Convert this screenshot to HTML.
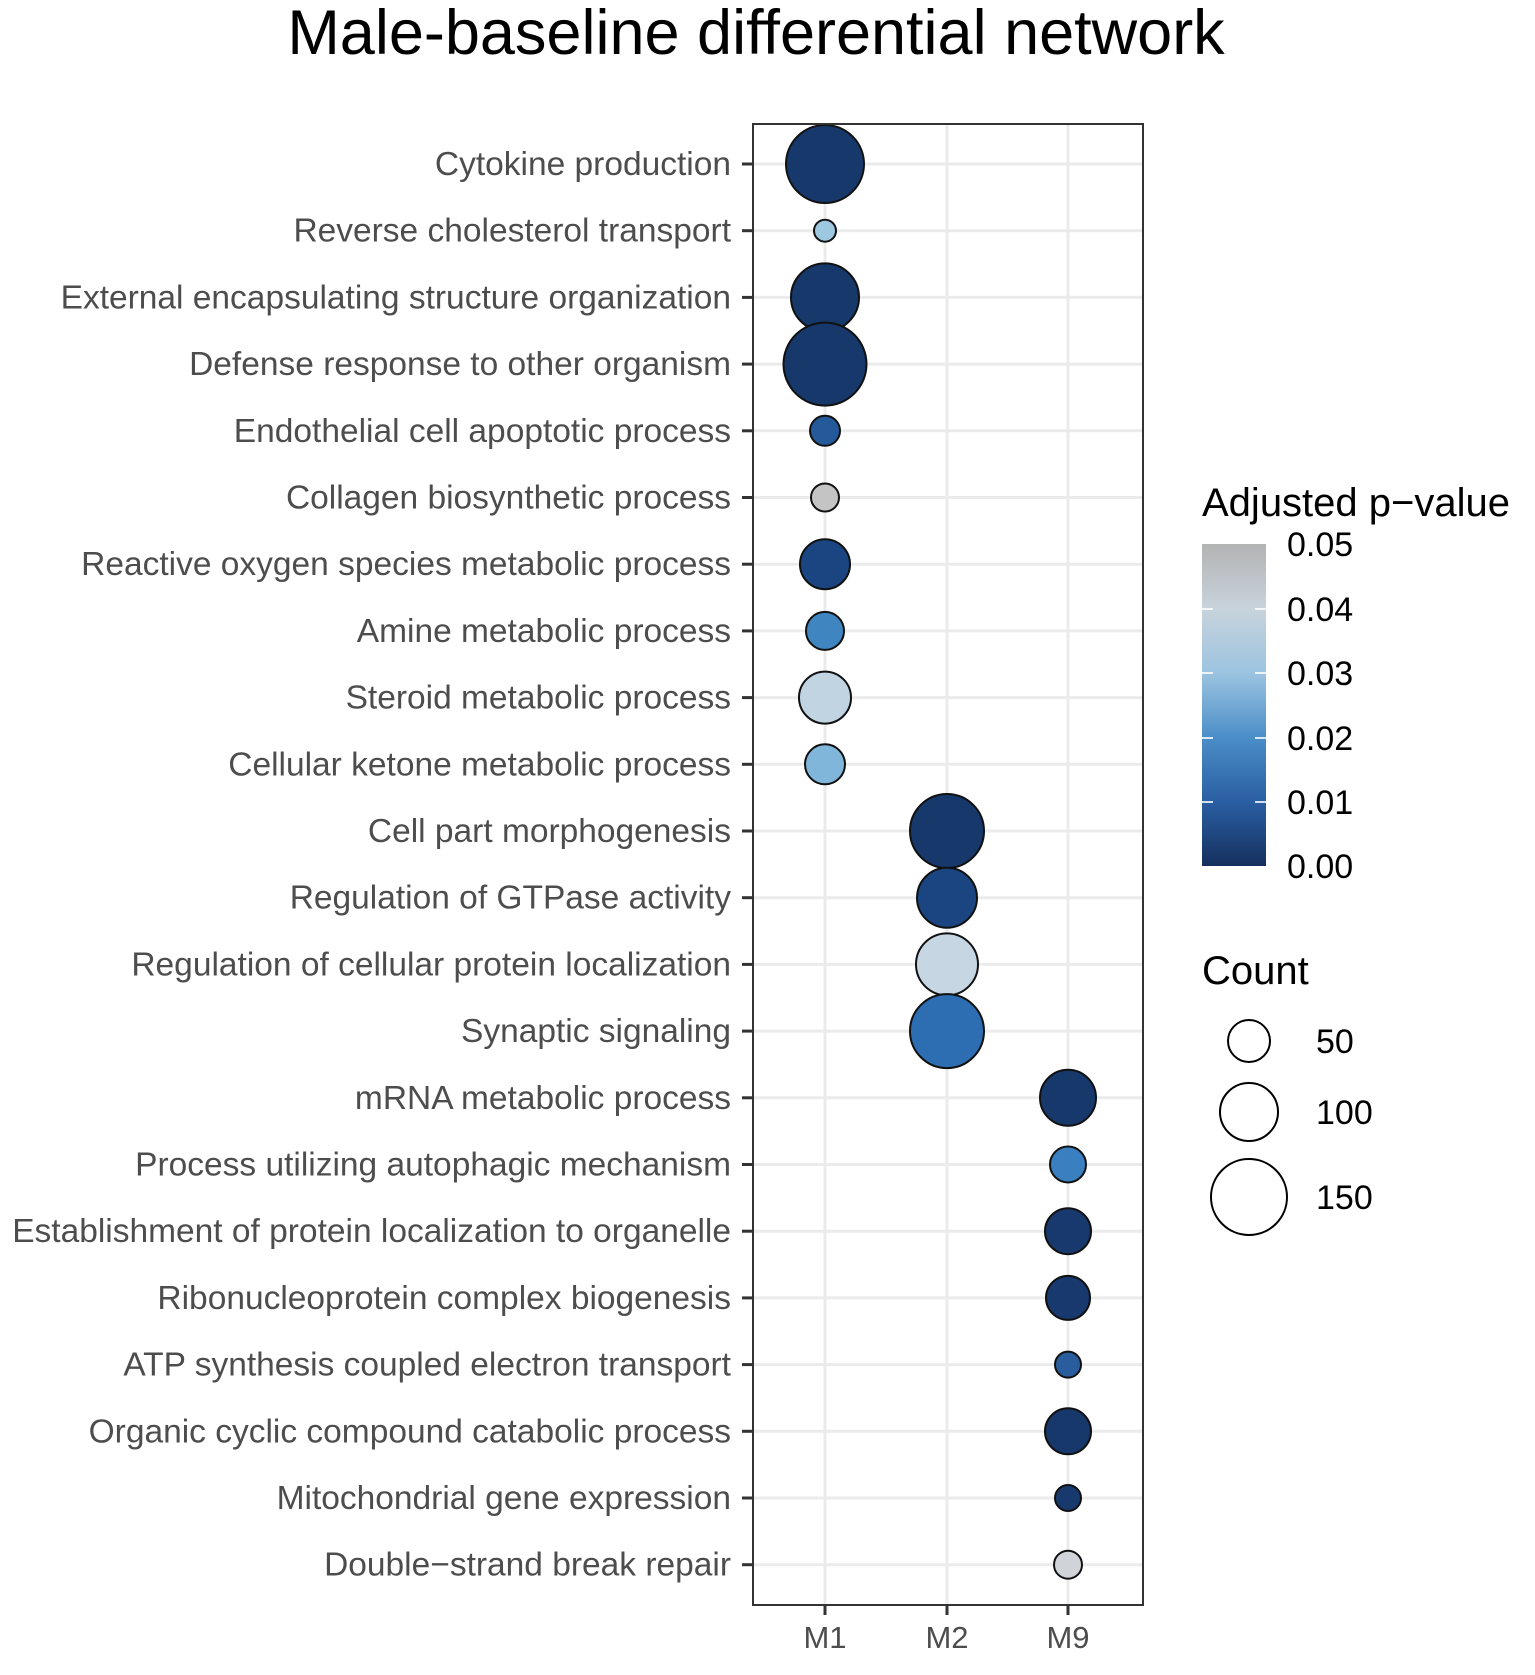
<!DOCTYPE html>
<html><head><meta charset="utf-8"><style>
html,body{margin:0;padding:0;background:#fff;}
svg{display:block;font-family:"Liberation Sans",Arial,sans-serif;}
</style></head><body>
<svg width="1535" height="1675" viewBox="0 0 1535 1675" xmlns="http://www.w3.org/2000/svg">
<defs>
<linearGradient id="cb" x1="0" y1="1" x2="0" y2="0">
<stop offset="0" stop-color="#15305e"/>
<stop offset="0.2" stop-color="#2a5fa3"/>
<stop offset="0.4" stop-color="#4b8ec8"/>
<stop offset="0.6" stop-color="#9cc4e0"/>
<stop offset="0.8" stop-color="#c8d3dc"/>
<stop offset="1" stop-color="#b3b3b3"/>
</linearGradient>
</defs>
<text x="756" y="54" font-size="63" text-anchor="middle" fill="#000">Male-baseline differential network</text>
<rect x="753" y="124" width="390" height="1481" fill="#fff"/>
<g stroke="#ebebeb" stroke-width="3">
<line x1="825" y1="124" x2="825" y2="1605"/><line x1="947" y1="124" x2="947" y2="1605"/><line x1="1068" y1="124" x2="1068" y2="1605"/>
</g>
<g id="rows" stroke="#ebebeb" stroke-width="3"></g>
<g id="labels" font-size="33.5" fill="#4d4d4d" text-anchor="end"></g>
<g id="ticks" stroke="#333" stroke-width="3"></g>
<g id="dots" stroke="#111" stroke-width="2"></g>
<rect x="753" y="124" width="390" height="1481" fill="none" stroke="#333" stroke-width="2"/>
<g stroke="#333" stroke-width="3">
<line x1="825" y1="1605" x2="825" y2="1615"/><line x1="947" y1="1605" x2="947" y2="1615"/><line x1="1068" y1="1605" x2="1068" y2="1615"/>
</g>
<g font-size="31" fill="#4d4d4d" text-anchor="middle">
<text x="825" y="1648">M1</text><text x="947" y="1648">M2</text><text x="1068" y="1648">M9</text>
</g>
<text x="1202" y="516" font-size="40" fill="#000">Adjusted p−value</text>
<rect x="1202" y="544" width="64" height="322" fill="url(#cb)"/>
<g stroke="#fff" stroke-width="2" opacity="0.8">
<line x1="1202" y1="609" x2="1213" y2="609"/><line x1="1255" y1="609" x2="1266" y2="609"/>
<line x1="1202" y1="673" x2="1213" y2="673"/><line x1="1255" y1="673" x2="1266" y2="673"/>
<line x1="1202" y1="738" x2="1213" y2="738"/><line x1="1255" y1="738" x2="1266" y2="738"/>
<line x1="1202" y1="802" x2="1213" y2="802"/><line x1="1255" y1="802" x2="1266" y2="802"/>
</g>
<g font-size="34" fill="#000">
<text x="1287" y="556">0.05</text><text x="1287" y="621">0.04</text><text x="1287" y="685">0.03</text>
<text x="1287" y="750">0.02</text><text x="1287" y="814">0.01</text><text x="1287" y="878">0.00</text>
</g>
<text x="1202" y="984" font-size="40" fill="#000">Count</text>
<g fill="none" stroke="#000" stroke-width="2">
<circle cx="1249" cy="1041" r="21"/><circle cx="1249" cy="1112" r="29"/><circle cx="1249" cy="1197" r="38"/>
</g>
<g font-size="34" fill="#000">
<text x="1316" y="1053">50</text><text x="1316" y="1124">100</text><text x="1316" y="1209">150</text>
</g>
</svg>
<script>
var data=[
["Cytokine production",0,39,"#16386b"],
["Reverse cholesterol transport",0,11,"#9ec8e0"],
["External encapsulating structure organization",0,34,"#16386b"],
["Defense response to other organism",0,41.5,"#16386b"],
["Endothelial cell apoptotic process",0,15,"#245a9a"],
["Collagen biosynthetic process",0,14,"#c4c4c4"],
["Reactive oxygen species metabolic process",0,25,"#1a4580"],
["Amine metabolic process",0,19,"#3f86c0"],
["Steroid metabolic process",0,26,"#c0d4e2"],
["Cellular ketone metabolic process",0,20,"#80b6da"],
["Cell part morphogenesis",1,37,"#16386b"],
["Regulation of GTPase activity",1,30,"#1a4580"],
["Regulation of cellular protein localization",1,31,"#c6d6e2"],
["Synaptic signaling",1,37,"#2d6db2"],
["mRNA metabolic process",2,28,"#16386b"],
["Process utilizing autophagic mechanism",2,18,"#3a7fbf"],
["Establishment of protein localization to organelle",2,23,"#17396d"],
["Ribonucleoprotein complex biogenesis",2,22,"#17396d"],
["ATP synthesis coupled electron transport",2,13,"#2a5d9e"],
["Organic cyclic compound catabolic process",2,23,"#16386b"],
["Mitochondrial gene expression",2,13,"#17396d"],
["Double\u2212strand break repair",2,14,"#d0d4d8"]];
var xs=[825,947,1068],ns="http://www.w3.org/2000/svg";
function el(t,a,p){var e=document.createElementNS(ns,t);for(var k in a)e.setAttribute(k,a[k]);document.getElementById(p).appendChild(e);return e;}
data.forEach(function(d,i){var y=164+i*66.7;
el("line",{x1:753,x2:1143,y1:y,y2:y},"rows");
var t=el("text",{x:731,y:y+11},"labels");t.textContent=d[0];
el("line",{x1:742,x2:753,y1:y,y2:y},"ticks");
el("circle",{cx:xs[d[1]],cy:y,r:d[2],fill:d[3]},"dots");});
</script>
</body></html>
